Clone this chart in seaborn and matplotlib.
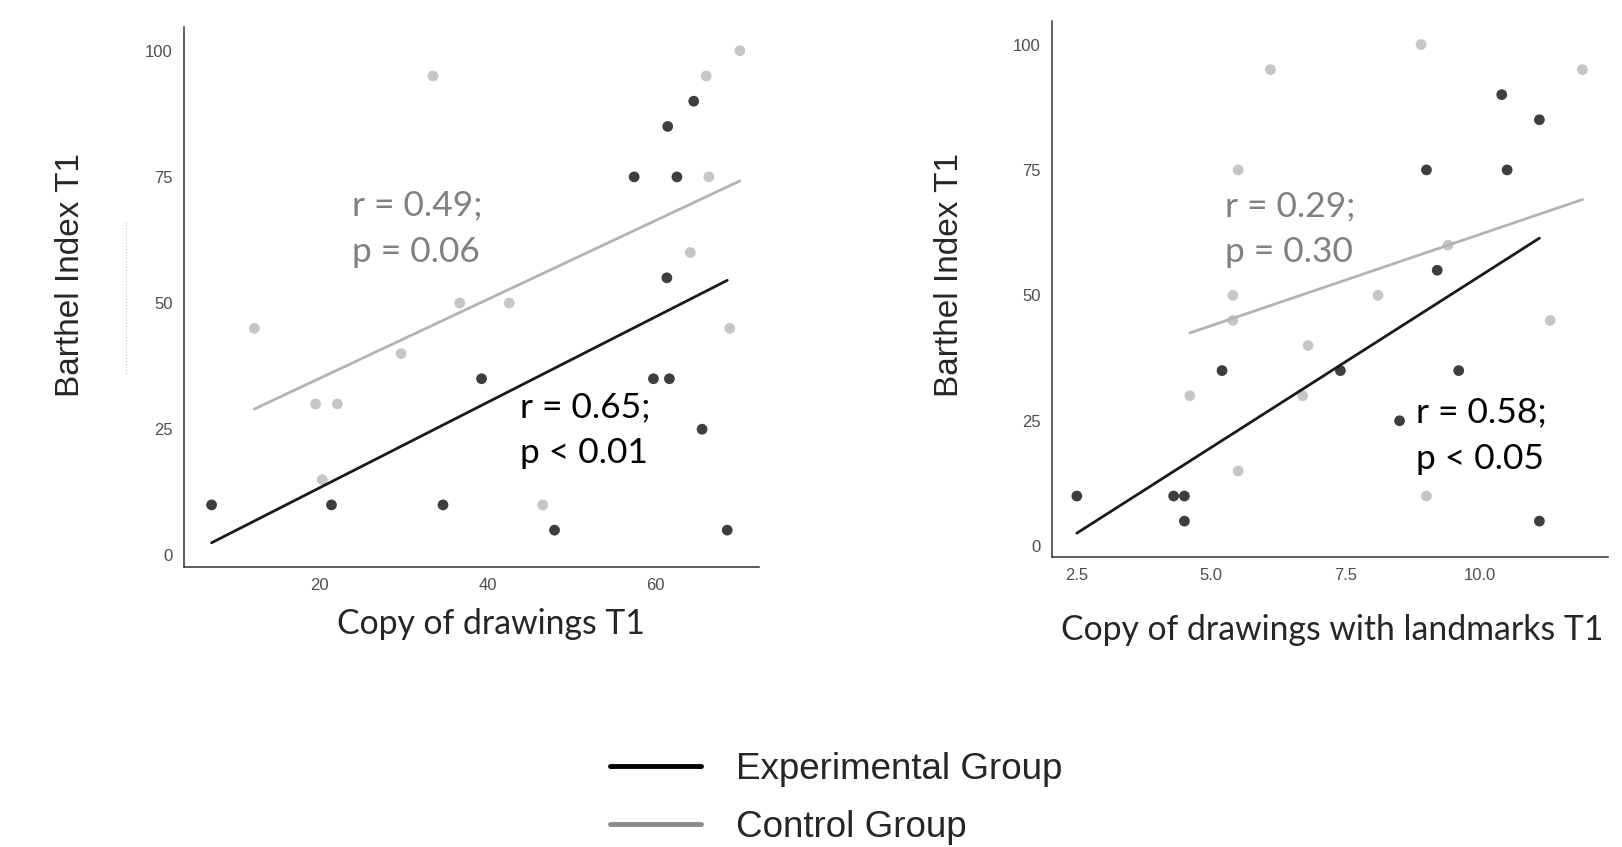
import pandas as pd
import seaborn as sns
import matplotlib.pyplot as plt
from matplotlib.lines import Line2D

# left panel: Copy of drawings T1
p1_exp_x = [7.1, 21.4, 34.7, 39.3, 48.0, 57.5, 59.8, 61.4, 61.5, 61.7, 62.6, 64.6, 65.6, 68.6]
p1_exp_y = [10, 10, 10, 35, 5, 75, 35, 55, 85, 35, 75, 90, 25, 5]
p1_ctl_x = [12.2, 19.5, 20.3, 22.1, 29.7, 33.5, 36.7, 42.6, 46.6, 64.2, 66.1, 66.4, 68.9, 70.1]
p1_ctl_y = [45, 30, 15, 30, 40, 95, 50, 50, 10, 60, 95, 75, 45, 100]
# fitted lines (end points)
p1_exp_fit_x = [7.1, 68.6]
p1_exp_fit_y = [2.5, 54.5]
p1_ctl_fit_x = [12.2, 70.1]
p1_ctl_fit_y = [29.0, 74.2]

# right panel: Copy of drawings with landmarks T1
p2_exp_x = [2.5, 4.3, 4.5, 4.5, 5.2, 7.4, 8.5, 9.0, 9.2, 9.6, 10.4, 10.5, 11.1, 11.1]
p2_exp_y = [10, 10, 10, 5, 35, 35, 25, 75, 55, 35, 90, 75, 85, 5]
p2_ctl_x = [4.6, 5.4, 5.4, 5.5, 5.5, 6.1, 6.7, 6.8, 8.1, 8.9, 9.0, 9.4, 11.3, 11.9]
p2_ctl_y = [30, 50, 45, 75, 15, 95, 30, 40, 50, 100, 10, 60, 45, 95]
p2_exp_fit_x = [2.5, 11.1]
p2_exp_fit_y = [2.6, 61.4]
p2_ctl_fit_x = [4.6, 11.9]
p2_ctl_fit_y = [42.5, 69.1]

y_ticks = [0, 25, 50, 75, 100]
p1_x_ticks = [20, 40, 60]
p2_x_ticks = [2.5, 5.0, 7.5, 10.0]
p2_x_labels = ["2.5", "5.0", "7.5", "10.0"]

stats = {
    "p1": ("r = 0.49;\np = 0.06", "r = 0.65;\np < 0.01"),
    "p2": ("r = 0.29;\np = 0.30", "r = 0.58;\np < 0.05"),
}

sns.set_style("white")
plt.rcParams['font.family'] = ['Liberation Sans', 'DejaVu Sans']

EXP_PT, CTL_PT = "#3e3e3e", "#c6c6c6"
EXP_LN, CTL_LN = "#1a1a1a", "#b3b3b3"
LABEL_FONT = "Lato"

fig = plt.figure(figsize=(16.22, 8.47), dpi=100)
ax1 = fig.add_axes([0.1134, 0.3306, 0.3546, 0.6381])
ax2 = fig.add_axes([0.6483, 0.3427, 0.3429, 0.6326])


def panel(ax, ex, ey, cx, cy, efx, efy, cfx, cfy):
    ctl = pd.DataFrame({"x": cx, "y": cy})
    exp = pd.DataFrame({"x": ex, "y": ey})
    sns.scatterplot(data=ctl, x="x", y="y", ax=ax, color=CTL_PT, s=60,
                    edgecolor="none", zorder=2)
    sns.scatterplot(data=exp, x="x", y="y", ax=ax, color=EXP_PT, s=60,
                    edgecolor="none", zorder=2)
    sns.lineplot(x=cfx, y=cfy, ax=ax, color=CTL_LN, lw=2.0, zorder=3)
    sns.lineplot(x=efx, y=efy, ax=ax, color=EXP_LN, lw=2.0, zorder=3)
    sns.despine(ax=ax)
    for s in ("left", "bottom"):
        ax.spines[s].set_color("#333333")
        ax.spines[s].set_linewidth(1.1)
    ax.tick_params(axis="both", length=4, width=1, color="#333333",
                   labelcolor="#4d4d4d", labelsize=12, pad=4)
    ax.set_yticks(y_ticks)
    ax.set_xlabel("")
    ax.set_ylabel("")


panel(ax1, p1_exp_x, p1_exp_y, p1_ctl_x, p1_ctl_y,
      p1_exp_fit_x, p1_exp_fit_y, p1_ctl_fit_x, p1_ctl_fit_y)
ax1.set_xticks(p1_x_ticks)
ax1.set_xlim(3.8, 72.4)
ax1.set_ylim(-2.3, 104.8)

panel(ax2, p2_exp_x, p2_exp_y, p2_ctl_x, p2_ctl_y,
      p2_exp_fit_x, p2_exp_fit_y, p2_ctl_fit_x, p2_ctl_fit_y)
ax2.set_xticks(p2_x_ticks)
ax2.set_xticklabels(p2_x_labels)
ax2.set_xlim(2.03, 12.37)
ax2.set_ylim(-2.1, 104.7)

# correlation annotations
ann = dict(fontsize=25.5, family=LABEL_FONT, va="center", ha="left",
           linespacing=1.55)
ax1.text(23.8, 64.7, stats["p1"][0], color="#808080", **ann)
ax1.text(43.9, 24.8, stats["p1"][1], color="black", **ann)
ax2.text(5.25, 63.2, stats["p2"][0], color="#808080", **ann)
ax2.text(8.81, 22.0, stats["p2"][1], color="black", **ann)

# axis titles
fig.text(0.3027, 0.2633, "Copy of drawings T1", fontsize=24.3,
         family=LABEL_FONT, ha="center", va="center")
fig.text(0.8212, 0.2562, "Copy of drawings with landmarks T1", fontsize=24.3,
         family=LABEL_FONT, ha="center", va="center")
fig.text(0.0433, 0.675, "Barthel Index T1", fontsize=24, rotation=90,
         ha="center", va="center")
fig.text(0.5855, 0.675, "Barthel Index T1", fontsize=24, rotation=90,
         ha="center", va="center")

# faint leftover mark next to the left y axis
fig.add_artist(Line2D([126 / 1622, 126 / 1622], [1 - 222 / 847, 1 - 375 / 847],
                      color="#c8c8c8", lw=0.8, ls=":"))

handles = [Line2D([], [], color="black", lw=3.5),
           Line2D([], [], color="#8a8a8a", lw=3.5)]
fig.legend(handles, ["Experimental Group", "Control Group"],
           loc="upper left", bbox_to_anchor=(0.376, 0.112), frameon=False,
           fontsize=26.5, handlelength=2.48, handletextpad=0.96,
           labelspacing=0.62, borderpad=0, borderaxespad=0)

fig.savefig("out.png", dpi=100)
